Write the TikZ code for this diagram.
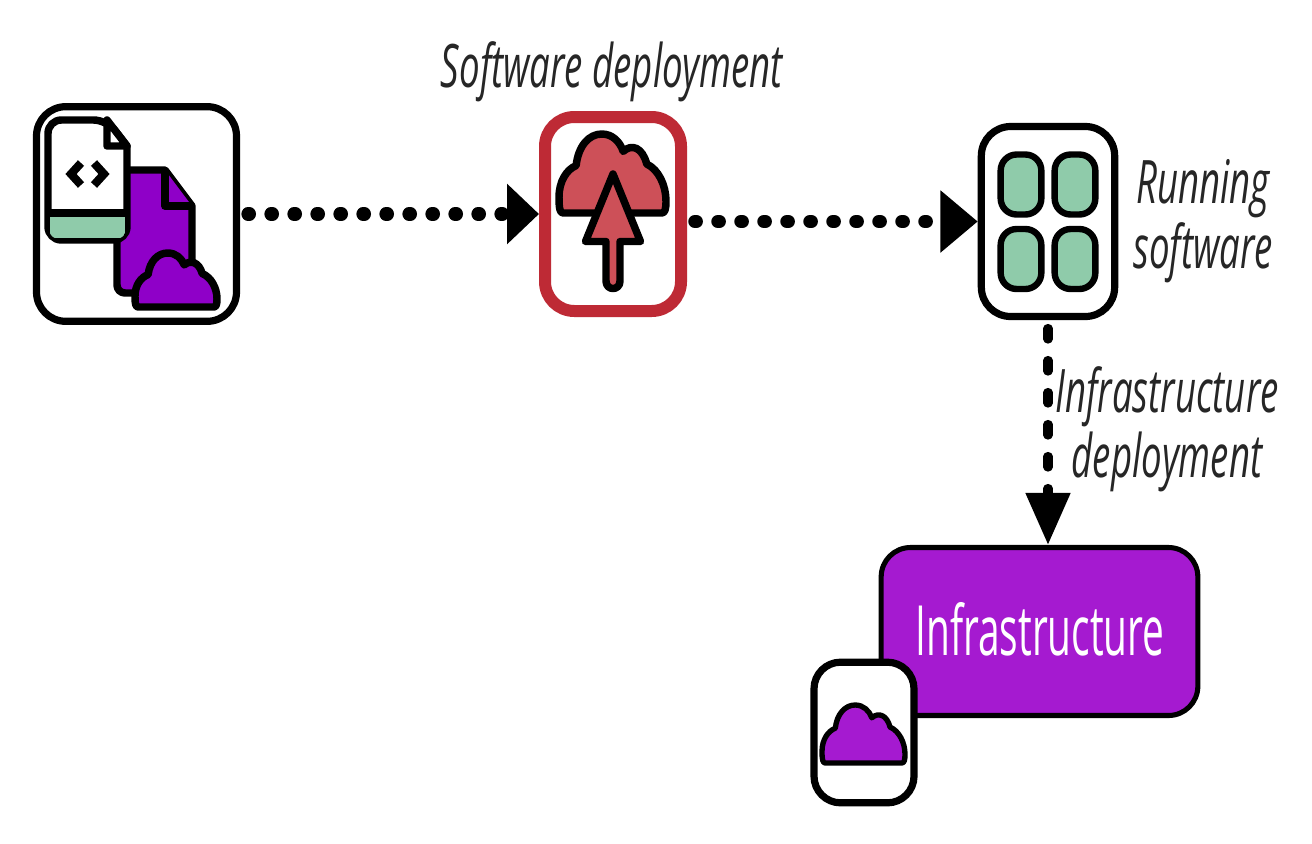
\documentclass[tikz,border=0pt]{standalone}
\usepackage{fontspec}
\usetikzlibrary{arrows.meta}
\setmainfont{Open Sans}
\newfontfamily\lblfont[FakeStretch=0.61]{Open Sans}
\newfontfamily\inffont[FakeStretch=0.56]{Open Sans}
\definecolor{pdoc}{HTML}{8F00C8}
\definecolor{pinf}{HTML}{A51AD0}
\definecolor{gtile}{HTML}{8FCBAA}
\definecolor{rfill}{HTML}{CD5058}
\definecolor{rline}{HTML}{BE2A35}
\newcommand{\cloudat}[5]{%
\begin{scope}[shift={(#1,#2)},x=#3*0.75pt,y=-#4*0.75pt]
\draw[iconline,#5] (0.04,1) .. controls (0.01,1) and (0,.95) .. (0,.8)
 .. controls (0,.6) and (.07,.45) .. (.16,.4)
 .. controls (.18,.15) and (.28,0) .. (.4,0)
 .. controls (.5,0) and (.57,.1) .. (.6,.22)
 .. controls (.68,.12) and (.78,.17) .. (.82,.38)
 .. controls (.93,.45) and (1,.65) .. (1,.85)
 .. controls (1,.95) and (.99,1) .. (.96,1) -- cycle;
\end{scope}}
\tikzset{
 iconline/.style={line width=5.6pt,line join=round,draw=black},
 boxed/.style={draw=black,fill=white,line width=5.4pt,rounded corners=22pt,inner sep=0pt},
 flowh/.style={line width=9.8pt,line cap=round,dash pattern=on 1.2pt off 16.05pt,dash phase=11.4pt,-{Triangle[length=24pt,width=44pt]}},
 flowv/.style={line width=6.8pt,line cap=round,dash pattern=on 8pt off 16pt,dash phase=17.75pt,-{Triangle[length=39pt,width=32pt]}},
 lbl/.style={font=\lblfont\itshape\fontsize{45}{48.75}\selectfont,text=black!85,align=center,inner sep=0pt},
}
\begin{document}
\begin{tikzpicture}[x=0.75pt,y=-0.75pt]
\useasboundingbox (0,0) rectangle (1312,843);
\fill[white] (0,0) rectangle (1312,843);
% boxes
\node[boxed,minimum width=150pt,minimum height=161pt] (src) at (136.5,214) {};
\node[boxed,draw=rline,line width=9pt,minimum width=102pt,minimum height=145.5pt] (dep) at (613,214) {};
\node[boxed,minimum width=100pt,minimum height=142.5pt] (run) at (1048,221.5) {};
\node[boxed,fill=pinf,line width=3.8pt,minimum width=237.5pt,minimum height=126pt] (inf) at (1039.5,631.5) {};
\node[boxed,rounded corners=20pt,minimum width=75pt,minimum height=105.5pt] (ico) at (864,732.5) {};
\node[font=\inffont\fontsize{52}{56}\selectfont,text=white,inner sep=0pt,anchor=base] (inft) at (1040,655) {Infrastructure};
% source icon
\draw[iconline,fill=pdoc,rounded corners=6pt] (117,170) [sharp corners] -- (165,170) -- (192,206) [rounded corners=6pt] -- (192,293) -- (117,293) -- cycle;
\draw[iconline,fill=pdoc] (165,170) -- (165,206) -- (192,206);
\draw[iconline,fill=white,rounded corners=10pt] (48,120) -- (107,120) [sharp corners] -- (127,146) [rounded corners=10pt] -- (127,240) -- (48,240) -- cycle;
\begin{scope}
\clip[rounded corners=10pt] (48,120) rectangle (127,240);
\fill[gtile] (50,214) rectangle (125,238);
\end{scope}
\draw[iconline] (48,213) -- (127,213);
\draw[iconline,fill=white] (107,120) -- (107,146) -- (127,146) -- cycle;
\draw[line width=6.2pt,line join=miter] (81,163) -- (71,174) -- (81,185);
\draw[line width=6.2pt,line join=miter] (94,163) -- (104,174) -- (94,185);
\cloudat{135}{253}{82}{54}{fill=pdoc}
% deploy icon
\cloudat{559}{134}{107}{79}{fill=rfill}
\draw[iconline,fill=rfill] (613,174) -- (640.5,241.5) -- (620,241.5) -- (620,281) .. controls (620,291) and (606,291) .. (606,281) -- (606,241.5) -- (585.5,241.5) -- cycle;
% running tiles
\foreach \cx/\cy [count=\i] in {1021/184.5,1075/184.5,1021/259,1075/259}
  \node[draw=black,fill=gtile,line width=4.8pt,rounded corners=12pt,minimum width=30.5pt,minimum height=45pt,inner sep=0pt] (tile\i) at (\cx,\cy) {};
% infra cloud
\cloudat{822}{705}{83}{58}{fill=pinf,line width=4pt}
% labels
\node[lbl] (lsw) at (612,72) {Software deployment};
\node[lbl] (lrun) at (1203,221) {Running\\software};
\node[lbl] (linf) at (1167,429) {Infrastructure\\deployment};
% connectors
\draw[flowh] (src.east) -- (dep.west);
\draw[flowh,-{Triangle[length=28pt,width=45pt]}] (dep.east |- run.west) -- (run.west);
\draw[flowv] (run.south) -- (run.south |- inf.north);
\end{tikzpicture}
\end{document}
